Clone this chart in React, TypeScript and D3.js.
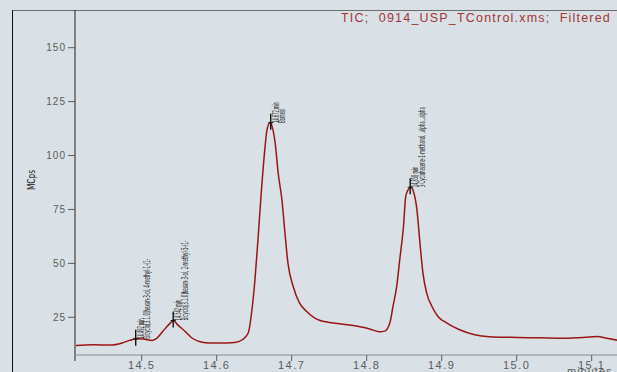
import React from 'react';
import * as d3 from 'd3';

// chromatogram trace (retention time in minutes, signal in MCps)
const times = [
  14.411, 14.435, 14.458, 14.474, 14.484, 14.493, 14.502, 14.514, 14.52, 14.528,
  14.538, 14.542, 14.548, 14.558, 14.567, 14.578, 14.591, 14.614, 14.624, 14.634,
  14.642, 14.647, 14.651, 14.655, 14.66, 14.664, 14.667, 14.671, 14.674, 14.678,
  14.682, 14.687, 14.691, 14.695, 14.702, 14.71, 14.72, 14.738, 14.764, 14.791,
  14.804, 14.817, 14.824, 14.831, 14.835, 14.84, 14.844, 14.849, 14.852, 14.855,
  14.859, 14.862, 14.867, 14.871, 14.875, 14.88, 14.887, 14.895, 14.907, 14.924,
  14.944, 14.964, 14.991, 15.031, 15.064, 15.091, 15.107, 15.12, 15.134,
];
const signal = [
  11.9, 12.3, 12.1, 13.1, 14.3, 15.0, 14.9, 14.3, 15.2, 18.4,
  22.3, 23.5, 21.5, 18.4, 15.4, 13.7, 13.1, 13.1, 13.3, 14.6,
  17.7, 28.5, 42.4, 60.9, 85.6, 102.3, 111.8, 115.2, 113.3, 105.7,
  91.8, 79.4, 64.1, 50.1, 39.3, 31.9, 27.7, 23.5, 22.0, 20.6,
  19.6, 18.3, 18.6, 22.6, 30.0, 39.3, 51.6, 67.0, 80.9, 84.0,
  85.3, 83.7, 74.8, 59.4, 45.5, 36.2, 30.0, 25.4, 22.3, 19.2,
  16.9, 16.0, 15.7, 15.5, 15.3, 15.7, 16.1, 15.3, 14.4,
];

const yTicks = [25, 50, 75, 100, 125, 150];
const xTicks = [14.5, 14.6, 14.7, 14.8, 14.9, 15.0, 15.1];

// peak annotations
const peakTimes = [14.492, 14.542, 14.672, 14.858];
const peakHeights = [15.0, 23.5, 115.2, 85.3];
const peakNames = [
  'Bicyclo[3.1.0]hexan-3-ol, 4-methyl-1-(1-',
  'Bicyclo[3.1.0]hexan-3-ol, 2-methyl-5-(1-',
  'Borneol',
  '3-Cyclohexene-1-methanol, .alpha.,.alpha',
];

const W = 617;
const H = 372;
const axisX = 75;
const axisY = 355;
const red = '#9a1414';
const grey = '#5a5a5a';

export default function App() {
  const x = d3.scaleLinear().domain([14.5, 15.1]).range([141.7, 591.7]);
  const y = d3.scaleLinear().domain([25, 150]).range([317.3, 47.7]);

  const pts: [number, number][] = times.map((t, i) => [t, signal[i]]);
  const line = d3
    .line<[number, number]>()
    .x((d) => x(d[0]))
    .y((d) => y(d[1]))
    .curve(d3.curveMonotoneX);

  const fmtX = d3.format('.1f');

  return (
    <svg
      width={W}
      height={H}
      style={{ position: 'absolute', left: 0, top: 0, background: '#d9e1e6' }}
      fontFamily="Arial, 'Liberation Sans', sans-serif"
    >
      <defs>
        <clipPath id="plot">
          <rect x={axisX + 1} y={10} width={W - axisX} height={axisY - 10} />
        </clipPath>
      </defs>

      {/* frame */}
      <line x1={12} x2={W} y1={10.5} y2={10.5} stroke="#6d6d6d" />
      <line x1={12.5} x2={12.5} y1={10} y2={H} stroke="#111" />
      <line x1={axisX} x2={axisX} y1={10} y2={361} stroke="#222" />
      <line x1={axisX} x2={W} y1={axisY} y2={axisY} stroke="#8a8a8a" />

      <text
        x={611}
        y={22}
        textAnchor="end"
        fill="#a33434"
        fontSize={12.5}
        letterSpacing={1.2}
        style={{ whiteSpace: 'pre' }}
      >
        {'TIC;  0914_USP_TControl.xms;  Filtered'}
      </text>

      {/* y axis */}
      {yTicks.map((v) => (
        <g key={v}>
          <line x1={68} x2={axisX} y1={y(v)} y2={y(v)} stroke={grey} />
          <text
            x={66}
            y={y(v) + 3.5}
            textAnchor="end"
            fill={grey}
            fontSize={10}
            letterSpacing={1}
          >
            {v}
          </text>
        </g>
      ))}
      <text
        transform="translate(35,180) rotate(-90)"
        textAnchor="middle"
        fontSize={10.5}
        fill="#222"
        fontFamily="'DejaVu Sans Condensed', 'DejaVu Sans'"
        textLength={20}
        lengthAdjust="spacingAndGlyphs"
      >
        MCps
      </text>

      {/* x axis */}
      {xTicks.map((t) => (
        <g key={t}>
          <line x1={x(t)} x2={x(t)} y1={axisY} y2={361} stroke={grey} />
          <text
            x={x(t)}
            y={369}
            textAnchor="middle"
            fill={grey}
            fontSize={11}
            letterSpacing={1.5}
          >
            {fmtX(t)}
          </text>
        </g>
      ))}
      <text x={567} y={375} fill={grey} fontSize={11} letterSpacing={1}>
        minutes
      </text>

      {/* trace */}
      <path
        d={line(pts) || ''}
        fill="none"
        stroke={red}
        strokeWidth={1.5}
        clipPath="url(#plot)"
      />

      {/* peak markers and labels */}
      {peakTimes.map((t, i) => {
        const px = x(t);
        const py = y(peakHeights[i]);
        const l1 = `${t.toFixed(3)} min`;
        const l2 = peakNames[i];
        return (
          <g key={t}>
            <line x1={px} x2={px} y1={py - 9} y2={py + 7} stroke="#111" strokeWidth={1.4} />
            <line x1={px - 2.5} x2={px + 2.5} y1={py} y2={py} stroke="#111" />
            <g
              transform={`translate(${px + 1.5},${py}) rotate(-90)`}
              fontFamily="'DejaVu Sans Condensed', 'DejaVu Sans'"
              fontSize={8}
              fill="#1a1a1a"
            >
              <text x={0} y={6.5} textLength={l1.length * 2.05} lengthAdjust="spacingAndGlyphs">
                {l1}
              </text>
              <text x={0} y={13} textLength={l2.length * 2.0} lengthAdjust="spacingAndGlyphs">
                {l2}
              </text>
            </g>
          </g>
        );
      })}
    </svg>
  );
}
